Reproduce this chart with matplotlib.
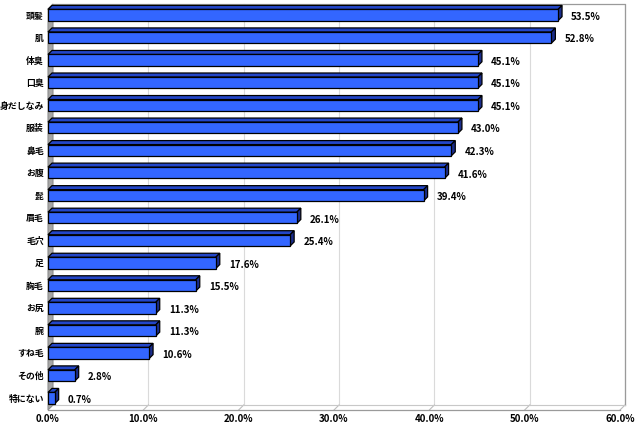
import matplotlib
matplotlib.use("Agg")
import matplotlib.pyplot as plt
from matplotlib.patches import Polygon

plt.rcParams['font.family'] = ['Noto Sans CJK JP', 'DejaVu Sans']

# データ
categories = ["頭髪", "肌", "体臭", "口臭", "身だしなみ", "服装", "鼻毛", "お腹", "髭",
              "眉毛", "毛穴", "足", "胸毛", "お尻", "腕", "すね毛", "その他", "特にない"]
values = [53.5, 52.8, 45.1, 45.1, 45.1, 43.0, 42.3, 41.6, 39.4,
          26.1, 25.4, 17.6, 15.5, 11.3, 11.3, 10.6, 2.8, 0.7]
xticks = [0, 10, 20, 30, 40, 50, 60]
xtick_labels = ["0.0%", "10.0%", "20.0%", "30.0%", "40.0%", "50.0%", "60.0%"]

W, H = 635, 426
fig = plt.figure(figsize=(W / 100, H / 100), dpi=100)
ax_w, ax_h = 572, 406
ax = fig.add_axes([48 / W, 16 / H, ax_w / W, ax_h / H])

ylo, yhi = -0.49, 17.53
ax.set_xlim(0, 60)
ax.set_ylim(yhi, ylo)

# 3D風の壁と床
dx, dy = 5 / ax_w, 5 / ax_h
wall = Polygon([(0, 0), (dx, dy), (dx, 1), (0, 1 - dy)], closed=True,
               transform=ax.transAxes, facecolor="#A6A6A6", edgecolor="#8C8C8C",
               lw=0.8, clip_on=False, zorder=1)
ax.add_patch(wall)
for t in xticks[1:]:
    f = t / 60
    ax.plot([f + dx, f + dx], [dy, 1], transform=ax.transAxes, color="#DADADA",
            lw=0.8, clip_on=False, zorder=0.5)
    ax.plot([f, f + dx], [0, dy], transform=ax.transAxes, color="#BDBDBD",
            lw=0.8, clip_on=False, zorder=0.5)
ax.plot([dx, 1 + dx, 1 + dx], [1, 1, dy], transform=ax.transAxes, color="#9A9A9A",
        lw=0.9, clip_on=False, zorder=0.6)
ax.plot([0, 1], [0, 0], transform=ax.transAxes, color="#9A9A9A", lw=0.9,
        clip_on=False, zorder=0.6)
ax.plot([dx, 1 + dx], [dy, dy], transform=ax.transAxes, color="#C8C8C8", lw=0.8,
        clip_on=False, zorder=0.6)

# 棒
ypos = list(range(len(categories)))
h = 0.5
ax.barh(ypos, values, height=h, color="#3366FF", edgecolor="black", lw=0.9, zorder=3)

ddx = 4 / (ax_w / 60)
ddy = 4 / (ax_h / (yhi - ylo))
for y, v in zip(ypos, values):
    top = y - h / 2
    bot = y + h / 2
    ax.add_patch(Polygon([(0, top), (v, top), (v + ddx, top - ddy), (ddx, top - ddy)],
                         closed=True, facecolor="#2346C8", edgecolor="black", lw=0.9,
                         zorder=2.9, clip_on=False))
    ax.add_patch(Polygon([(v, top), (v, bot), (v + ddx, bot - ddy), (v + ddx, top - ddy)],
                         closed=True, facecolor="#1A2D8C", edgecolor="black", lw=0.9,
                         zorder=2.9, clip_on=False))
    ax.text(v + ddx + 0.95, y + 0.08, f"{v:.1f}%", va="center", ha="left",
            fontsize=7, fontweight="bold", color="black", zorder=4)

ax.set_yticks(ypos)
ax.set_yticklabels(categories, fontsize=6.4, fontweight="bold")
ax.set_xticks(xticks)
ax.set_xticklabels(xtick_labels, fontsize=7, fontweight="bold")
ax.tick_params(axis="both", length=0)
ax.tick_params(axis="y", pad=3)
ax.tick_params(axis="x", pad=3)
for s in ax.spines.values():
    s.set_visible(False)
ax.patch.set_alpha(0)

fig.savefig("out.png", dpi=100)
